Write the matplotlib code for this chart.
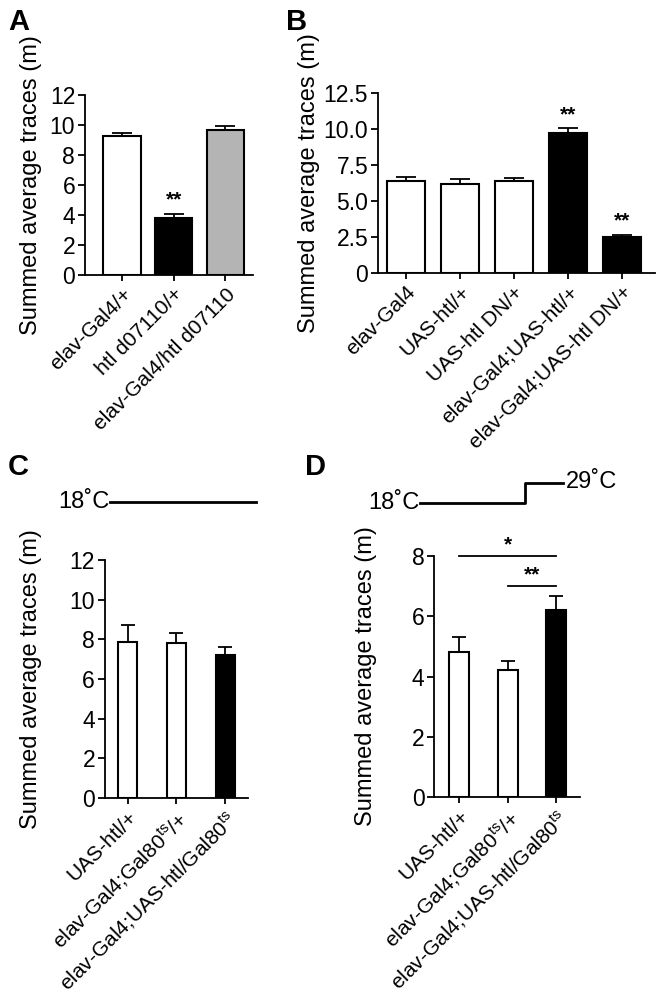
import matplotlib
matplotlib.use("Agg")
import matplotlib.pyplot as plt
import numpy as np
from matplotlib.lines import Line2D

plt.rcParams["font.family"] = ["Liberation Sans", "DejaVu Sans"]
plt.rcParams["axes.linewidth"] = 1.3

TS = r"$\mathregular{^{ts}}$"

# Panel A
a_labels = ["elav-Gal4/+", "htl d07110/+", "elav-Gal4/htl d07110"]
a_means = [9.25, 3.8, 9.7]
a_sem = [0.22, 0.3, 0.25]
a_colors = ["white", "black", "#b4b4b4"]
a_stars = ["", "**", ""]

# Panel B
b_labels = ["elav-Gal4", "UAS-htl/+", "UAS-htl DN/+",
            "elav-Gal4;UAS-htl/+", "elav-Gal4;UAS-htl DN/+"]
b_means = [6.4, 6.2, 6.4, 9.75, 2.5]
b_sem = [0.3, 0.3, 0.2, 0.3, 0.15]
b_colors = ["white", "white", "white", "black", "black"]
b_stars = ["", "", "", "**", "**"]
b_ticks = [0, 2.5, 5.0, 7.5, 10.0, 12.5]
b_ticklabels = ["0", "2.5", "5.0", "7.5", "10.0", "12.5"]

# Panels C and D share genotypes
cd_labels = ["UAS-htl/+", "elav-Gal4;Gal80" + TS + "/+",
             "elav-Gal4;UAS-htl/Gal80" + TS]
cd_colors = ["white", "white", "black"]
c_means = [7.85, 7.8, 7.2]
c_sem = [0.85, 0.5, 0.4]
d_means = [4.8, 4.2, 6.2]
d_sem = [0.52, 0.3, 0.48]

fig = plt.figure(figsize=(6.63, 10), dpi=100)


def bar_panel(rect, labels, means, sem, colors, width, xlim, ylim, yticks,
              capsize, label_x, stars=None, yticklabels=None):
    ax = fig.add_axes(rect)
    x = np.arange(len(means))
    ax.bar(x, means, width, color=colors, edgecolor="black", linewidth=1.5,
           zorder=2)
    ax.errorbar(x, means, yerr=[np.zeros(len(sem)), sem], fmt="none",
                ecolor="black", elinewidth=1.3, capsize=capsize,
                capthick=1.3, zorder=1)
    if stars:
        for xi, m, s, st in zip(x, means, sem, stars):
            if st:
                ax.annotate(st, xy=(xi, m + s), xytext=(0, 3),
                            textcoords="offset points", ha="center",
                            va="bottom", fontsize=15, fontweight="bold")
    ax.set_xlim(*xlim)
    ax.set_ylim(*ylim)
    ax.set_yticks(yticks)
    if yticklabels is not None:
        ax.set_yticklabels(yticklabels)
    ax.set_xticks(x)
    ax.set_xticklabels(labels, rotation=45, ha="right",
                       rotation_mode="anchor", fontsize=15)
    ax.tick_params(axis="y", labelsize=16.5, length=5, width=1.3, pad=2)
    ax.tick_params(axis="x", length=4, width=1.3, pad=3)
    ax.spines["top"].set_visible(False)
    ax.spines["right"].set_visible(False)
    ax.set_ylabel("Summed average traces (m)", fontsize=17)
    ax.yaxis.set_label_coords(label_x, 0.5)
    return ax


bar_panel([0.128, 0.725, 0.254, 0.18], a_labels, a_means, a_sem, a_colors,
          0.72, (-0.72, 2.54), (0, 12), [0, 2, 4, 6, 8, 10, 12], 7, -0.256,
          a_stars)

bar_panel([0.570, 0.727, 0.418, 0.18], b_labels, b_means, b_sem, b_colors,
          0.69, (-0.52, 4.61), (0, 12.5), b_ticks, 7, -0.209, b_stars,
          b_ticklabels)

bar_panel([0.158, 0.202, 0.216, 0.238], cd_labels, c_means, c_sem, cd_colors,
          0.39, (-0.47, 2.47), (0, 12), [0, 2, 4, 6, 8, 10, 12], 5, -0.44)

axd = bar_panel([0.655, 0.203, 0.22, 0.241], cd_labels, d_means, d_sem,
                cd_colors, 0.41, (-0.52, 2.5), (0, 8), [0, 2, 4, 6, 8], 5,
                -0.39)

# significance brackets in D
for x0, x1, y, st in [(0, 2, 8.0, "*"), (1, 2, 7.0, "**")]:
    axd.plot([x0, x1], [y, y], color="black", lw=1.3, clip_on=False)
    axd.text((x0 + x1) / 2, y + 0.05, st, ha="center", va="bottom",
             fontsize=15, fontweight="bold", clip_on=False)

# temperature schematics
fig.text(0.165, 0.498, "18\u02daC", ha="right", va="center", fontsize=17)
fig.add_artist(Line2D([0.166, 0.386], [0.498, 0.498], color="black", lw=2))

fig.text(0.632, 0.497, "18\u02daC", ha="right", va="center", fontsize=17)
fig.add_artist(Line2D([0.633, 0.792, 0.792, 0.849],
                      [0.497, 0.497, 0.517, 0.517], color="black", lw=2))
fig.text(0.853, 0.518, "29\u02daC", ha="left", va="center", fontsize=17)

# panel letters
for x, y, s in [(0.012, 0.978, "A"), (0.432, 0.978, "B"),
                (0.012, 0.533, "C"), (0.46, 0.533, "D")]:
    fig.text(x, y, s, fontsize=21, fontweight="bold", va="center")

fig.savefig("out.png", dpi=100)
